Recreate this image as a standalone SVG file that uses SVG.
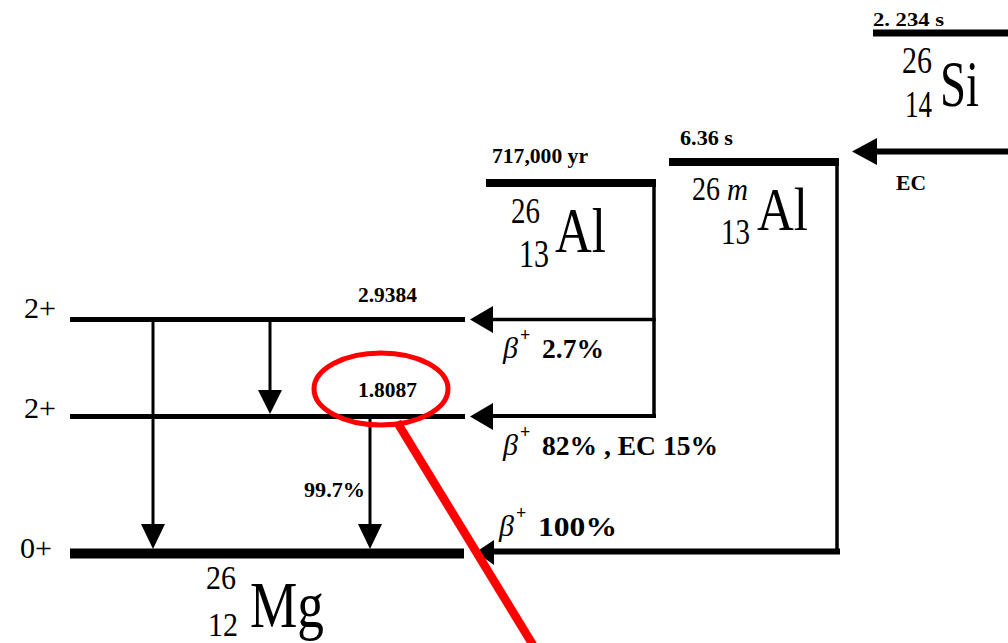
<svg xmlns="http://www.w3.org/2000/svg" width="1008" height="643" viewBox="0 0 1008 643">
<style>
text{font-family:"Liberation Serif","Times New Roman",serif;fill:#000}
.b{font-weight:bold}
.beta{font-style:italic;font-size:30px}
.sup{font-weight:bold;font-size:18px}
.lvl{stroke:#000;stroke-linecap:butt;fill:none}
.ln{stroke:#000;fill:none;stroke-linecap:square}
.ah{fill:#000}
.red{stroke:#ff0000;fill:none}
</style>
<rect width="1008" height="643" fill="#fff"/>

<g id="si26">
<line class="lvl" x1="873" y1="33" x2="1008" y2="33" stroke-width="7"/>
<text class="b" x="873" y="26" font-size="19" textLength="71" lengthAdjust="spacingAndGlyphs">2. 234 s</text>
<text x="902" y="73" font-size="37" textLength="30" lengthAdjust="spacingAndGlyphs">26</text>
<text x="905" y="117" font-size="37" textLength="27" lengthAdjust="spacingAndGlyphs">14</text>
<text x="940" y="106" font-size="66" textLength="39" lengthAdjust="spacingAndGlyphs">Si</text>
</g>

<g id="al26">
<line class="lvl" x1="486" y1="183" x2="656" y2="183" stroke-width="8"/>
<text class="b" x="492" y="163" font-size="21" textLength="96" lengthAdjust="spacingAndGlyphs">717,000 yr</text>
<text x="511" y="223" font-size="35" textLength="29" lengthAdjust="spacingAndGlyphs">26</text>
<text x="519" y="267" font-size="39" textLength="30" lengthAdjust="spacingAndGlyphs">13</text>
<text x="555" y="252" font-size="63" textLength="51" lengthAdjust="spacingAndGlyphs">Al</text>
</g>

<g id="al26m">
<line class="lvl" x1="669" y1="162" x2="839" y2="162" stroke-width="8"/>
<text class="b" x="680" y="145" font-size="21" textLength="53" lengthAdjust="spacingAndGlyphs">6.36 s</text>
<text x="692" y="200" font-size="33" textLength="28" lengthAdjust="spacingAndGlyphs">26</text>
<text x="727" y="200" font-size="31" font-style="italic" textLength="21" lengthAdjust="spacingAndGlyphs">m</text>
<text x="721" y="244" font-size="35" textLength="29" lengthAdjust="spacingAndGlyphs">13</text>
<text x="757" y="230" font-size="61" textLength="51" lengthAdjust="spacingAndGlyphs">Al</text>
</g>

<g id="mg26-2938">
<line class="lvl" x1="70" y1="319.5" x2="465" y2="319.5" stroke-width="5"/>
<text x="24" y="318" font-size="30" textLength="32" lengthAdjust="spacingAndGlyphs">2+</text>
<text class="b" x="358" y="302" font-size="22" textLength="59" lengthAdjust="spacingAndGlyphs">2.9384</text>
</g>

<g id="mg26-1809">
<line class="lvl" x1="70" y1="416.5" x2="465" y2="416.5" stroke-width="5"/>
<text x="24" y="418" font-size="30" textLength="32" lengthAdjust="spacingAndGlyphs">2+</text>
<text class="b" x="358" y="397" font-size="22" textLength="59" lengthAdjust="spacingAndGlyphs">1.8087</text>
</g>

<g id="mg26-gs">
<line class="lvl" x1="70" y1="553.5" x2="464" y2="553.5" stroke-width="10"/>
<text x="20" y="558" font-size="30" textLength="32" lengthAdjust="spacingAndGlyphs">0+</text>
<text x="206" y="589" font-size="33" textLength="30" lengthAdjust="spacingAndGlyphs">26</text>
<text x="208" y="636" font-size="34" textLength="30" lengthAdjust="spacingAndGlyphs">12</text>
<text x="250" y="627" font-size="66" textLength="74" lengthAdjust="spacingAndGlyphs">Mg</text>
</g>

<g id="connectors">
<!-- EC from Si to 26mAl -->
<line class="ln" x1="876" y1="151.5" x2="1008" y2="151.5" stroke-width="6"/>
<polygon class="ah" points="852,151.5 877,138 877,165"/>
<text class="b" x="896" y="190" font-size="21" textLength="30" lengthAdjust="spacingAndGlyphs">EC</text>

<!-- 26Al decays -->
<line class="ln" x1="654" y1="181" x2="654" y2="416" stroke-width="3.5"/>
<line class="ln" x1="492" y1="319.5" x2="654" y2="319.5" stroke-width="3.5"/>
<polygon class="ah" points="470,319.5 493,306 493,333"/>
<line class="ln" x1="492" y1="416" x2="654" y2="416" stroke-width="4"/>
<polygon class="ah" points="470,416.5 493,403 493,430"/>

<!-- 26mAl decay -->
<line class="ln" x1="837" y1="160" x2="837" y2="551" stroke-width="3.5"/>
<line class="ln" x1="492" y1="551.5" x2="837" y2="551.5" stroke-width="6"/>
<polygon class="ah" points="476,552 494,540 494,565"/>

<!-- gamma transitions -->
<line class="ln" x1="153" y1="320" x2="153" y2="528" stroke-width="3"/>
<polygon class="ah" points="153,549 141,524 165,524"/>
<line class="ln" x1="270" y1="320" x2="270" y2="392" stroke-width="3"/>
<polygon class="ah" points="270,414 258,390 282,390"/>
<line class="ln" x1="370" y1="417" x2="370" y2="528" stroke-width="3"/>
<polygon class="ah" points="370,549 358,524 382,524"/>
<text class="b" x="304" y="497" font-size="21" textLength="61" lengthAdjust="spacingAndGlyphs">99.7%</text>

<!-- decay labels -->
<text class="beta" x="503" y="358">β</text>
<text class="sup" x="520" y="341">+</text>
<text class="b" x="542" y="358" font-size="27" textLength="62" lengthAdjust="spacingAndGlyphs">2.7%</text>

<text class="beta" x="503" y="455">β</text>
<text class="sup" x="520" y="438">+</text>
<text class="b" x="542" y="455" font-size="27" textLength="176" lengthAdjust="spacingAndGlyphs">82% , EC 15%</text>

<text class="beta" x="499" y="536">β</text>
<text class="sup" x="516" y="519">+</text>
<text class="b" x="538" y="536" font-size="27" textLength="79" lengthAdjust="spacingAndGlyphs">100%</text>
</g>

<g id="highlight">
<ellipse class="red" cx="381" cy="389" rx="67" ry="36" stroke-width="5"/>
<line class="red" x1="397" y1="422" x2="533" y2="645" stroke-width="8.5"/>
</g>
</svg>
